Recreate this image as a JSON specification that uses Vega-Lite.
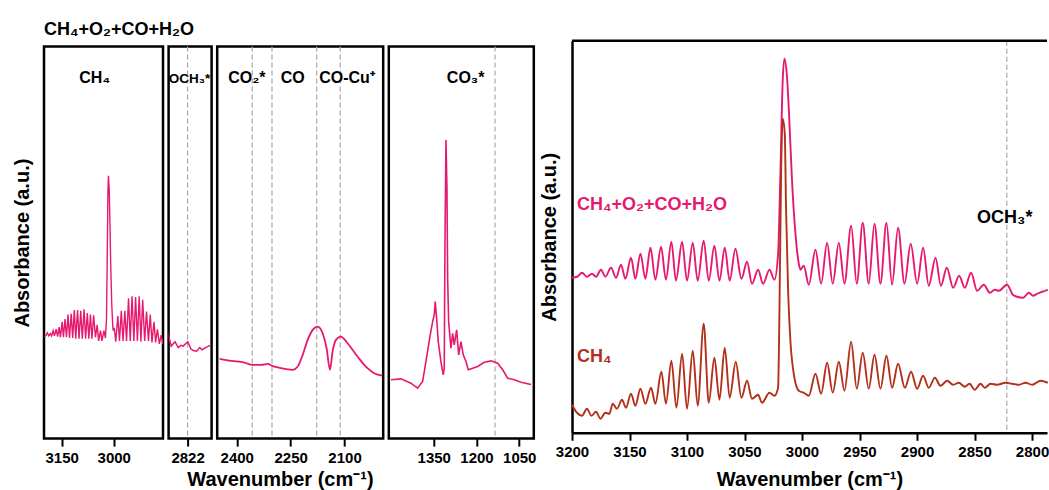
{
  "$schema": "https://vega.github.io/schema/vega-lite/v6.json",
  "padding": {"left": 11, "top": 19.75, "right": 0, "bottom": 0},
  "title": {"text": "CH₄+O₂+CO+H₂O", "anchor": "start", "frame": "bounds", "dx": 33, "fontSize": 18, "font": "Liberation Sans", "fontWeight": "bold", "color": "#000", "offset": 1, "baseline": "top"},
  "config": {
    "font": "Liberation Sans",
    "view": {"stroke": "#000", "strokeWidth": 2.5},
    "axis": {
      "grid": false,
      "labelFont": "Liberation Sans", "labelFontSize": 15, "labelFontWeight": "bold", "labelColor": "#000",
      "titleFont": "Liberation Sans", "titleFontSize": 20, "titleFontWeight": "bold", "titleColor": "#000",
      "tickColor": "#000", "tickWidth": 2, "tickSize": 7.5, "domainColor": "#000", "domainWidth": 2.5,
      "labelPadding": 4, "labelFlush": false, "labelOverlap": false
    },
    "text": {"font": "Liberation Sans", "fontWeight": "bold"}
  },
  "datasets": {
    "spectra": [
      {"series": "mix", "wavenumber": 3200.0, "absorbance": 0.155},
      {"series": "mix", "wavenumber": 3195.5, "absorbance": 0.156},
      {"series": "mix", "wavenumber": 3191.3, "absorbance": 0.160},
      {"series": "mix", "wavenumber": 3187.0, "absorbance": 0.156},
      {"series": "mix", "wavenumber": 3182.6, "absorbance": 0.159},
      {"series": "mix", "wavenumber": 3179.1, "absorbance": 0.156},
      {"series": "mix", "wavenumber": 3174.8, "absorbance": 0.163},
      {"series": "mix", "wavenumber": 3171.0, "absorbance": 0.156},
      {"series": "mix", "wavenumber": 3166.1, "absorbance": 0.165},
      {"series": "mix", "wavenumber": 3161.7, "absorbance": 0.155},
      {"series": "mix", "wavenumber": 3157.4, "absorbance": 0.168},
      {"series": "mix", "wavenumber": 3153.6, "absorbance": 0.154},
      {"series": "mix", "wavenumber": 3148.7, "absorbance": 0.175},
      {"series": "mix", "wavenumber": 3144.9, "absorbance": 0.154},
      {"series": "mix", "wavenumber": 3140.5, "absorbance": 0.179},
      {"series": "mix", "wavenumber": 3136.2, "absorbance": 0.154},
      {"series": "mix", "wavenumber": 3131.8, "absorbance": 0.185},
      {"series": "mix", "wavenumber": 3127.5, "absorbance": 0.153},
      {"series": "mix", "wavenumber": 3122.6, "absorbance": 0.186},
      {"series": "mix", "wavenumber": 3118.3, "absorbance": 0.153},
      {"series": "mix", "wavenumber": 3113.6, "absorbance": 0.191},
      {"series": "mix", "wavenumber": 3109.6, "absorbance": 0.152},
      {"series": "mix", "wavenumber": 3104.3, "absorbance": 0.191},
      {"series": "mix", "wavenumber": 3100.0, "absorbance": 0.152},
      {"series": "mix", "wavenumber": 3095.0, "absorbance": 0.190},
      {"series": "mix", "wavenumber": 3090.7, "absorbance": 0.152},
      {"series": "mix", "wavenumber": 3085.5, "absorbance": 0.192},
      {"series": "mix", "wavenumber": 3081.1, "absorbance": 0.152},
      {"series": "mix", "wavenumber": 3076.2, "absorbance": 0.187},
      {"series": "mix", "wavenumber": 3071.8, "absorbance": 0.152},
      {"series": "mix", "wavenumber": 3067.2, "absorbance": 0.185},
      {"series": "mix", "wavenumber": 3062.9, "absorbance": 0.152},
      {"series": "mix", "wavenumber": 3057.9, "absorbance": 0.184},
      {"series": "mix", "wavenumber": 3052.7, "absorbance": 0.154},
      {"series": "mix", "wavenumber": 3047.8, "absorbance": 0.171},
      {"series": "mix", "wavenumber": 3043.5, "absorbance": 0.149},
      {"series": "mix", "wavenumber": 3038.2, "absorbance": 0.163},
      {"series": "mix", "wavenumber": 3033.9, "absorbance": 0.149},
      {"series": "mix", "wavenumber": 3028.3, "absorbance": 0.163},
      {"series": "mix", "wavenumber": 3024.0, "absorbance": 0.153},
      {"series": "mix", "wavenumber": 3020.8, "absorbance": 0.179},
      {"series": "mix", "wavenumber": 3018.8, "absorbance": 0.259},
      {"series": "mix", "wavenumber": 3016.8, "absorbance": 0.352},
      {"series": "mix", "wavenumber": 3015.3, "absorbance": 0.374},
      {"series": "mix", "wavenumber": 3013.0, "absorbance": 0.355},
      {"series": "mix", "wavenumber": 3010.9, "absorbance": 0.309},
      {"series": "mix", "wavenumber": 3008.7, "absorbance": 0.252},
      {"series": "mix", "wavenumber": 3005.7, "absorbance": 0.199},
      {"series": "mix", "wavenumber": 3002.8, "absorbance": 0.169},
      {"series": "mix", "wavenumber": 3001.4, "absorbance": 0.163},
      {"series": "mix", "wavenumber": 2998.5, "absorbance": 0.167},
      {"series": "mix", "wavenumber": 2994.1, "absorbance": 0.148},
      {"series": "mix", "wavenumber": 2988.3, "absorbance": 0.183},
      {"series": "mix", "wavenumber": 2983.4, "absorbance": 0.149},
      {"series": "mix", "wavenumber": 2978.2, "absorbance": 0.190},
      {"series": "mix", "wavenumber": 2973.3, "absorbance": 0.149},
      {"series": "mix", "wavenumber": 2968.0, "absorbance": 0.190},
      {"series": "mix", "wavenumber": 2963.1, "absorbance": 0.149},
      {"series": "mix", "wavenumber": 2957.3, "absorbance": 0.207},
      {"series": "mix", "wavenumber": 2952.4, "absorbance": 0.149},
      {"series": "mix", "wavenumber": 2947.2, "absorbance": 0.210},
      {"series": "mix", "wavenumber": 2942.0, "absorbance": 0.149},
      {"series": "mix", "wavenumber": 2937.0, "absorbance": 0.209},
      {"series": "mix", "wavenumber": 2931.8, "absorbance": 0.149},
      {"series": "mix", "wavenumber": 2926.6, "absorbance": 0.210},
      {"series": "mix", "wavenumber": 2921.7, "absorbance": 0.148},
      {"series": "mix", "wavenumber": 2916.5, "absorbance": 0.205},
      {"series": "mix", "wavenumber": 2910.9, "absorbance": 0.149},
      {"series": "mix", "wavenumber": 2905.5, "absorbance": 0.189},
      {"series": "mix", "wavenumber": 2899.9, "absorbance": 0.149},
      {"series": "mix", "wavenumber": 2894.7, "absorbance": 0.185},
      {"series": "mix", "wavenumber": 2889.8, "absorbance": 0.147},
      {"series": "mix", "wavenumber": 2883.9, "absorbance": 0.175},
      {"series": "mix", "wavenumber": 2879.3, "absorbance": 0.147},
      {"series": "mix", "wavenumber": 2874.1, "absorbance": 0.165},
      {"series": "mix", "wavenumber": 2868.6, "absorbance": 0.145},
      {"series": "mix", "wavenumber": 2863.4, "absorbance": 0.157},
      {"series": "mix", "wavenumber": 2858.5, "absorbance": 0.145},
      {"series": "mix", "wavenumber": 2853.0, "absorbance": 0.160},
      {"series": "mix", "wavenumber": 2847.8, "absorbance": 0.142},
      {"series": "mix", "wavenumber": 2841.9, "absorbance": 0.148},
      {"series": "mix", "wavenumber": 2836.7, "absorbance": 0.140},
      {"series": "mix", "wavenumber": 2832.4, "absorbance": 0.143},
      {"series": "mix", "wavenumber": 2828.9, "absorbance": 0.142},
      {"series": "mix", "wavenumber": 2821.7, "absorbance": 0.148},
      {"series": "mix", "wavenumber": 2816.7, "absorbance": 0.138},
      {"series": "mix", "wavenumber": 2813.0, "absorbance": 0.136},
      {"series": "mix", "wavenumber": 2807.7, "absorbance": 0.135},
      {"series": "mix", "wavenumber": 2802.8, "absorbance": 0.140},
      {"series": "mix", "wavenumber": 2799.0, "absorbance": 0.137},
      {"series": "mix", "wavenumber": 2795.6, "absorbance": 0.139},
      {"series": "mix", "wavenumber": 2791.2, "absorbance": 0.141},
      {"series": "mix", "wavenumber": 2786.3, "absorbance": 0.143},

      {"series": "mix", "wavenumber": 2447.6, "absorbance": 0.1247},
      {"series": "mix", "wavenumber": 2415.2, "absorbance": 0.1219},
      {"series": "mix", "wavenumber": 2378.3, "absorbance": 0.1196},
      {"series": "mix", "wavenumber": 2357.0, "absorbance": 0.1165},
      {"series": "mix", "wavenumber": 2332.0, "absorbance": 0.1165},
      {"series": "mix", "wavenumber": 2313.5, "absorbance": 0.1179},
      {"series": "mix", "wavenumber": 2301.5, "absorbance": 0.1151},
      {"series": "mix", "wavenumber": 2276.6, "absorbance": 0.1119},
      {"series": "mix", "wavenumber": 2244.2, "absorbance": 0.1097},
      {"series": "mix", "wavenumber": 2230.3, "absorbance": 0.1142},
      {"series": "mix", "wavenumber": 2216.5, "absorbance": 0.1301},
      {"series": "mix", "wavenumber": 2202.6, "absorbance": 0.1505},
      {"series": "mix", "wavenumber": 2188.7, "absorbance": 0.1641},
      {"series": "mix", "wavenumber": 2174.9, "absorbance": 0.1686},
      {"series": "mix", "wavenumber": 2161.0, "absorbance": 0.1595},
      {"series": "mix", "wavenumber": 2149.9, "absorbance": 0.1391},
      {"series": "mix", "wavenumber": 2140.7, "absorbance": 0.1097},
      {"series": "mix", "wavenumber": 2133.3, "absorbance": 0.1346},
      {"series": "mix", "wavenumber": 2124.0, "absorbance": 0.1505},
      {"series": "mix", "wavenumber": 2110.2, "absorbance": 0.1550},
      {"series": "mix", "wavenumber": 2091.7, "absorbance": 0.1459},
      {"series": "mix", "wavenumber": 2063.9, "absorbance": 0.1278},
      {"series": "mix", "wavenumber": 2036.2, "absorbance": 0.1119},
      {"series": "mix", "wavenumber": 2017.7, "absorbance": 0.1051},
      {"series": "mix", "wavenumber": 1994.6, "absorbance": 0.1019},

      {"series": "mix", "wavenumber": 1500.1, "absorbance": 0.0961},
      {"series": "mix", "wavenumber": 1465.0, "absorbance": 0.0974},
      {"series": "mix", "wavenumber": 1430.0, "absorbance": 0.0915},
      {"series": "mix", "wavenumber": 1406.4, "absorbance": 0.0847},
      {"series": "mix", "wavenumber": 1388.9, "absorbance": 0.0938},
      {"series": "mix", "wavenumber": 1377.3, "absorbance": 0.1210},
      {"series": "mix", "wavenumber": 1362.2, "absorbance": 0.1573},
      {"series": "mix", "wavenumber": 1353.8, "absorbance": 0.1754},
      {"series": "mix", "wavenumber": 1348.2, "absorbance": 0.1845},
      {"series": "mix", "wavenumber": 1344.7, "absorbance": 0.2026},
      {"series": "mix", "wavenumber": 1339.8, "absorbance": 0.1799},
      {"series": "mix", "wavenumber": 1334.2, "absorbance": 0.1482},
      {"series": "mix", "wavenumber": 1324.7, "absorbance": 0.1210},
      {"series": "mix", "wavenumber": 1316.6, "absorbance": 0.1029},
      {"series": "mix", "wavenumber": 1313.1, "absorbance": 0.1119},
      {"series": "mix", "wavenumber": 1310.7, "absorbance": 0.2751},
      {"series": "mix", "wavenumber": 1307.1, "absorbance": 0.4226},
      {"series": "mix", "wavenumber": 1303.6, "absorbance": 0.3568},
      {"series": "mix", "wavenumber": 1301.2, "absorbance": 0.2343},
      {"series": "mix", "wavenumber": 1297.7, "absorbance": 0.1754},
      {"series": "mix", "wavenumber": 1289.6, "absorbance": 0.1391},
      {"series": "mix", "wavenumber": 1283.6, "absorbance": 0.1595},
      {"series": "mix", "wavenumber": 1278.0, "absorbance": 0.1437},
      {"series": "mix", "wavenumber": 1269.6, "absorbance": 0.1641},
      {"series": "mix", "wavenumber": 1262.6, "absorbance": 0.1301},
      {"series": "mix", "wavenumber": 1254.5, "absorbance": 0.1482},
      {"series": "mix", "wavenumber": 1246.4, "absorbance": 0.1301},
      {"series": "mix", "wavenumber": 1237.0, "absorbance": 0.1210},
      {"series": "mix", "wavenumber": 1228.9, "absorbance": 0.1097},
      {"series": "mix", "wavenumber": 1213.5, "absorbance": 0.1119},
      {"series": "mix", "wavenumber": 1195.9, "absorbance": 0.1142},
      {"series": "mix", "wavenumber": 1172.8, "absorbance": 0.1200},
      {"series": "mix", "wavenumber": 1149.2, "absorbance": 0.1219},
      {"series": "mix", "wavenumber": 1125.7, "absorbance": 0.1187},
      {"series": "mix", "wavenumber": 1108.2, "absorbance": 0.1097},
      {"series": "mix", "wavenumber": 1090.7, "absorbance": 0.0983},
      {"series": "mix", "wavenumber": 1067.5, "absorbance": 0.0961},
      {"series": "mix", "wavenumber": 1044.0, "absorbance": 0.0928},
      {"series": "mix", "wavenumber": 1008.9, "absorbance": 0.0897},

      {"series": "ch4", "wavenumber": 3200.0, "absorbance": 0.028},
      {"series": "ch4", "wavenumber": 3195.7, "absorbance": 0.020},
      {"series": "ch4", "wavenumber": 3191.3, "absorbance": 0.017},
      {"series": "ch4", "wavenumber": 3187.0, "absorbance": 0.024},
      {"series": "ch4", "wavenumber": 3183.1, "absorbance": 0.017},
      {"series": "ch4", "wavenumber": 3179.1, "absorbance": 0.021},
      {"series": "ch4", "wavenumber": 3175.3, "absorbance": 0.014},
      {"series": "ch4", "wavenumber": 3171.0, "absorbance": 0.020},
      {"series": "ch4", "wavenumber": 3167.5, "absorbance": 0.019},
      {"series": "ch4", "wavenumber": 3164.6, "absorbance": 0.029},
      {"series": "ch4", "wavenumber": 3160.9, "absorbance": 0.024},
      {"series": "ch4", "wavenumber": 3156.5, "absorbance": 0.033},
      {"series": "ch4", "wavenumber": 3153.1, "absorbance": 0.025},
      {"series": "ch4", "wavenumber": 3148.7, "absorbance": 0.039},
      {"series": "ch4", "wavenumber": 3144.9, "absorbance": 0.027},
      {"series": "ch4", "wavenumber": 3140.5, "absorbance": 0.044},
      {"series": "ch4", "wavenumber": 3136.2, "absorbance": 0.029},
      {"series": "ch4", "wavenumber": 3131.3, "absorbance": 0.045},
      {"series": "ch4", "wavenumber": 3127.5, "absorbance": 0.029},
      {"series": "ch4", "wavenumber": 3122.3, "absorbance": 0.061},
      {"series": "ch4", "wavenumber": 3118.3, "absorbance": 0.029},
      {"series": "ch4", "wavenumber": 3113.6, "absorbance": 0.072},
      {"series": "ch4", "wavenumber": 3109.2, "absorbance": 0.025},
      {"series": "ch4", "wavenumber": 3104.3, "absorbance": 0.079},
      {"series": "ch4", "wavenumber": 3100.0, "absorbance": 0.024},
      {"series": "ch4", "wavenumber": 3095.0, "absorbance": 0.082},
      {"series": "ch4", "wavenumber": 3090.7, "absorbance": 0.027},
      {"series": "ch4", "wavenumber": 3085.5, "absorbance": 0.109},
      {"series": "ch4", "wavenumber": 3081.1, "absorbance": 0.030},
      {"series": "ch4", "wavenumber": 3076.2, "absorbance": 0.075},
      {"series": "ch4", "wavenumber": 3071.8, "absorbance": 0.033},
      {"series": "ch4", "wavenumber": 3067.2, "absorbance": 0.085},
      {"series": "ch4", "wavenumber": 3062.9, "absorbance": 0.035},
      {"series": "ch4", "wavenumber": 3057.6, "absorbance": 0.071},
      {"series": "ch4", "wavenumber": 3052.7, "absorbance": 0.035},
      {"series": "ch4", "wavenumber": 3047.8, "absorbance": 0.052},
      {"series": "ch4", "wavenumber": 3043.5, "absorbance": 0.034},
      {"series": "ch4", "wavenumber": 3038.2, "absorbance": 0.038},
      {"series": "ch4", "wavenumber": 3034.8, "absorbance": 0.030},
      {"series": "ch4", "wavenumber": 3028.3, "absorbance": 0.040},
      {"series": "ch4", "wavenumber": 3024.0, "absorbance": 0.037},
      {"series": "ch4", "wavenumber": 3020.8, "absorbance": 0.045},
      {"series": "ch4", "wavenumber": 3019.6, "absorbance": 0.125},
      {"series": "ch4", "wavenumber": 3018.2, "absorbance": 0.259},
      {"series": "ch4", "wavenumber": 3016.8, "absorbance": 0.314},
      {"series": "ch4", "wavenumber": 3015.0, "absorbance": 0.299},
      {"series": "ch4", "wavenumber": 3013.9, "absorbance": 0.225},
      {"series": "ch4", "wavenumber": 3012.1, "absorbance": 0.142},
      {"series": "ch4", "wavenumber": 3010.1, "absorbance": 0.092},
      {"series": "ch4", "wavenumber": 3007.2, "absorbance": 0.059},
      {"series": "ch4", "wavenumber": 3002.8, "absorbance": 0.042},
      {"series": "ch4", "wavenumber": 2998.5, "absorbance": 0.040},
      {"series": "ch4", "wavenumber": 2994.1, "absorbance": 0.037},
      {"series": "ch4", "wavenumber": 2988.3, "absorbance": 0.059},
      {"series": "ch4", "wavenumber": 2983.4, "absorbance": 0.039},
      {"series": "ch4", "wavenumber": 2978.2, "absorbance": 0.070},
      {"series": "ch4", "wavenumber": 2973.3, "absorbance": 0.040},
      {"series": "ch4", "wavenumber": 2968.0, "absorbance": 0.071},
      {"series": "ch4", "wavenumber": 2963.1, "absorbance": 0.042},
      {"series": "ch4", "wavenumber": 2957.3, "absorbance": 0.091},
      {"series": "ch4", "wavenumber": 2952.4, "absorbance": 0.044},
      {"series": "ch4", "wavenumber": 2947.2, "absorbance": 0.080},
      {"series": "ch4", "wavenumber": 2942.0, "absorbance": 0.044},
      {"series": "ch4", "wavenumber": 2937.0, "absorbance": 0.078},
      {"series": "ch4", "wavenumber": 2931.8, "absorbance": 0.044},
      {"series": "ch4", "wavenumber": 2926.6, "absorbance": 0.077},
      {"series": "ch4", "wavenumber": 2921.7, "absorbance": 0.045},
      {"series": "ch4", "wavenumber": 2916.5, "absorbance": 0.069},
      {"series": "ch4", "wavenumber": 2910.6, "absorbance": 0.045},
      {"series": "ch4", "wavenumber": 2905.2, "absorbance": 0.061},
      {"series": "ch4", "wavenumber": 2899.9, "absorbance": 0.044},
      {"series": "ch4", "wavenumber": 2894.7, "absorbance": 0.057},
      {"series": "ch4", "wavenumber": 2889.8, "absorbance": 0.045},
      {"series": "ch4", "wavenumber": 2884.5, "absorbance": 0.055},
      {"series": "ch4", "wavenumber": 2879.6, "absorbance": 0.047},
      {"series": "ch4", "wavenumber": 2873.8, "absorbance": 0.052},
      {"series": "ch4", "wavenumber": 2868.6, "absorbance": 0.048},
      {"series": "ch4", "wavenumber": 2863.7, "absorbance": 0.050},
      {"series": "ch4", "wavenumber": 2858.5, "absorbance": 0.046},
      {"series": "ch4", "wavenumber": 2854.4, "absorbance": 0.049},
      {"series": "ch4", "wavenumber": 2849.8, "absorbance": 0.043},
      {"series": "ch4", "wavenumber": 2844.8, "absorbance": 0.049},
      {"series": "ch4", "wavenumber": 2841.1, "absorbance": 0.045},
      {"series": "ch4", "wavenumber": 2836.1, "absorbance": 0.049},
      {"series": "ch4", "wavenumber": 2830.4, "absorbance": 0.048},
      {"series": "ch4", "wavenumber": 2823.1, "absorbance": 0.050},
      {"series": "ch4", "wavenumber": 2817.3, "absorbance": 0.049},
      {"series": "ch4", "wavenumber": 2811.5, "absorbance": 0.048},
      {"series": "ch4", "wavenumber": 2805.7, "absorbance": 0.050},
      {"series": "ch4", "wavenumber": 2799.9, "absorbance": 0.048},
      {"series": "ch4", "wavenumber": 2792.6, "absorbance": 0.052},
      {"series": "ch4", "wavenumber": 2786.3, "absorbance": 0.050}
    ],
    "guides": [
      {"panel": "p2", "wavenumber": 2822},
      {"panel": "p3", "wavenumber": 2357},
      {"panel": "p3", "wavenumber": 2302},
      {"panel": "p3", "wavenumber": 2177.6},
      {"panel": "p3", "wavenumber": 2112},
      {"panel": "p4", "wavenumber": 1135},
      {"panel": "right", "wavenumber": 2822}
    ],
    "labels": [
      {"panel": "p1", "text": "CH₄", "wavenumber": 3055, "absorbance": 0.5},
      {"panel": "p2", "text": "OCH₃*", "wavenumber": 2819, "absorbance": 0.5},
      {"panel": "p3", "text": "CO₂*", "wavenumber": 2372, "absorbance": 0.5},
      {"panel": "p3", "text": "CO", "wavenumber": 2244, "absorbance": 0.5},
      {"panel": "p3", "text": "CO-Cu⁺", "wavenumber": 2093, "absorbance": 0.5},
      {"panel": "p4", "text": "CO₃*", "wavenumber": 1238, "absorbance": 0.5},
      {"panel": "right", "series": "mix", "text": "CH₄+O₂+CO+H₂O", "wavenumber": 3195.7, "absorbance": 0.2227},
      {"panel": "right", "series": "ch4", "text": "CH₄", "wavenumber": 3195.7, "absorbance": 0.0703},
      {"panel": "right", "series": "note", "text": "OCH₃*", "wavenumber": 2847.8, "absorbance": 0.2093}
    ],
    "topEdge": [{"absorbance": 0.392}]
  },
  "spacing": 1,
  "hconcat": [
    {
      "spacing": 2.85,
      "vconcat": [
        {
          "data": {"name": "topEdge"},
          "width": 1, "height": 1,
          "view": {"stroke": null},
          "mark": {"type": "point", "opacity": 0, "size": 1, "filled": true, "strokeWidth": 0},
          "encoding": {}
        },
        {
          "spacing": 5.6,
          "bounds": "flush",
          "hconcat": [
            {
              "width": 119, "height": 392,
              "layer": [
                {
                  "data": {"name": "spectra"},
                  "transform": [{"filter": "datum.series === 'mix' && datum.wavenumber >= 2850 && datum.wavenumber <= 3205"}],
                  "mark": {"type": "line", "clip": true, "color": "#E6196F", "strokeWidth": 1.4},
                  "encoding": {
                    "x": {"field": "wavenumber", "type": "quantitative", "scale": {"domain": [3201, 2858]},
                          "axis": {"values": [3150, 3000], "format": "d", "title": null, "domain": false}},
                    "y": {"field": "absorbance", "type": "quantitative", "scale": {"domain": [0.016, 0.55]},
                          "axis": {"title": "Absorbance (a.u.)", "labels": false, "ticks": false, "domain": false, "titlePadding": 11.75}}
                  }
                },
                {
                  "data": {"name": "labels"},
                  "transform": [{"filter": "datum.panel === 'p1'"}],
                  "mark": {"type": "text", "align": "center", "baseline": "alphabetic", "fontSize": 16, "color": "#000"},
                  "encoding": {
                    "x": {"field": "wavenumber", "type": "quantitative", "scale": {"domain": [3201, 2858]}},
                    "y": {"field": "absorbance", "type": "quantitative", "scale": {"domain": [0.016, 0.55]}},
                    "text": {"field": "text"}
                  }
                }
              ]
            },
            {
              "width": 43, "height": 392,
              "layer": [
                {
                  "data": {"name": "guides"},
                  "transform": [{"filter": "datum.panel === 'p2'"}],
                  "mark": {"type": "rule", "color": "#a8a8a8", "strokeDash": [5, 3], "strokeWidth": 1.2},
                  "encoding": {"x": {"field": "wavenumber", "type": "quantitative", "scale": {"domain": [2852, 2784]}}}
                },
                {
                  "data": {"name": "spectra"},
                  "transform": [{"filter": "datum.series === 'mix' && datum.wavenumber >= 2780 && datum.wavenumber <= 2860"}],
                  "mark": {"type": "line", "clip": true, "color": "#E6196F", "strokeWidth": 1.5},
                  "encoding": {
                    "x": {"field": "wavenumber", "type": "quantitative", "scale": {"domain": [2852, 2784]},
                          "axis": {"values": [2822], "format": "d", "title": null, "domain": false}},
                    "y": {"field": "absorbance", "type": "quantitative", "scale": {"domain": [0.016, 0.55]}, "axis": null}
                  }
                },
                {
                  "data": {"name": "labels"},
                  "transform": [{"filter": "datum.panel === 'p2'"}],
                  "mark": {"type": "text", "align": "center", "baseline": "alphabetic", "fontSize": 13.5, "color": "#000"},
                  "encoding": {
                    "x": {"field": "wavenumber", "type": "quantitative", "scale": {"domain": [2852, 2784]}},
                    "y": {"field": "absorbance", "type": "quantitative", "scale": {"domain": [0.016, 0.55]}},
                    "text": {"field": "text"}
                  }
                }
              ]
            },
            {
              "width": 166, "height": 392,
              "layer": [
                {
                  "data": {"name": "guides"},
                  "transform": [{"filter": "datum.panel === 'p3'"}],
                  "mark": {"type": "rule", "color": "#a8a8a8", "strokeDash": [5, 3], "strokeWidth": 1.2},
                  "encoding": {"x": {"field": "wavenumber", "type": "quantitative", "scale": {"domain": [2454.5, 1992.4]}}}
                },
                {
                  "data": {"name": "spectra"},
                  "transform": [{"filter": "datum.series === 'mix' && datum.wavenumber >= 1990 && datum.wavenumber <= 2460"}],
                  "mark": {"type": "line", "clip": true, "color": "#E6196F", "strokeWidth": 1.8, "interpolate": "monotone"},
                  "encoding": {
                    "x": {"field": "wavenumber", "type": "quantitative", "scale": {"domain": [2454.5, 1992.4]},
                          "axis": {"values": [2400, 2250, 2100], "format": "d", "title": "Wavenumber (cm⁻¹)", "domain": false,
                                   "titleX": 62.7, "titleY": 31, "titleBaseline": "top"}},
                    "y": {"field": "absorbance", "type": "quantitative", "scale": {"domain": [0.016, 0.55]}, "axis": null}
                  }
                },
                {
                  "data": {"name": "labels"},
                  "transform": [{"filter": "datum.panel === 'p3'"}],
                  "mark": {"type": "text", "align": "center", "baseline": "alphabetic", "fontSize": 16, "color": "#000"},
                  "encoding": {
                    "x": {"field": "wavenumber", "type": "quantitative", "scale": {"domain": [2454.5, 1992.4]}},
                    "y": {"field": "absorbance", "type": "quantitative", "scale": {"domain": [0.016, 0.55]}},
                    "text": {"field": "text"}
                  }
                }
              ]
            },
            {
              "width": 145, "height": 392,
              "layer": [
                {
                  "data": {"name": "guides"},
                  "transform": [{"filter": "datum.panel === 'p4'"}],
                  "mark": {"type": "rule", "color": "#a8a8a8", "strokeDash": [5, 3], "strokeWidth": 1.2},
                  "encoding": {"x": {"field": "wavenumber", "type": "quantitative", "scale": {"domain": [1507.5, 999.1]}}}
                },
                {
                  "data": {"name": "spectra"},
                  "transform": [{"filter": "datum.series === 'mix' && datum.wavenumber >= 995 && datum.wavenumber <= 1510"}],
                  "mark": {"type": "line", "clip": true, "color": "#E6196F", "strokeWidth": 1.6},
                  "encoding": {
                    "x": {"field": "wavenumber", "type": "quantitative", "scale": {"domain": [1507.5, 999.1]},
                          "axis": {"values": [1350, 1200, 1050], "format": "d", "title": null, "domain": false}},
                    "y": {"field": "absorbance", "type": "quantitative", "scale": {"domain": [0.016, 0.55]}, "axis": null}
                  }
                },
                {
                  "data": {"name": "labels"},
                  "transform": [{"filter": "datum.panel === 'p4'"}],
                  "mark": {"type": "text", "align": "center", "baseline": "alphabetic", "fontSize": 16, "color": "#000"},
                  "encoding": {
                    "x": {"field": "wavenumber", "type": "quantitative", "scale": {"domain": [1507.5, 999.1]}},
                    "y": {"field": "absorbance", "type": "quantitative", "scale": {"domain": [0.016, 0.55]}},
                    "text": {"field": "text"}
                  }
                }
              ]
            }
          ]
        }
      ]
    },
    {
      "width": 475, "height": 392,
      "view": {"stroke": null},
      "layer": [
        {
          "data": {"name": "guides"},
          "transform": [{"filter": "datum.panel === 'right'"}],
          "mark": {"type": "rule", "color": "#a8a8a8", "strokeDash": [5, 3], "strokeWidth": 1.2},
          "encoding": {"x": {"field": "wavenumber", "type": "quantitative", "scale": {"domain": [3200, 2787]}}}
        },
        {
          "data": {"name": "topEdge"},
          "mark": {"type": "rule", "color": "#000", "strokeWidth": 2.5},
          "encoding": {"y": {"field": "absorbance", "type": "quantitative", "scale": {"domain": [0, 0.392]}}}
        },
        {
          "data": {"name": "spectra"},
          "transform": [{"filter": "datum.wavenumber >= 2780"}],
          "mark": {"type": "line", "interpolate": "monotone", "strokeWidth": 1.9},
          "encoding": {
            "x": {"field": "wavenumber", "type": "quantitative", "scale": {"domain": [3200, 2787]},
                  "axis": {"values": [3200, 3150, 3100, 3050, 3000, 2950, 2900, 2850, 2800], "format": "d",
                           "title": "Wavenumber (cm⁻¹)", "titlePadding": 10, "domain": true}},
            "y": {"field": "absorbance", "type": "quantitative", "scale": {"domain": [0, 0.392]},
                  "axis": {"title": "Absorbance (a.u.)", "labels": false, "ticks": false, "domain": true, "titlePadding": 12.65}},
            "color": {"field": "series", "type": "nominal",
                      "scale": {"domain": ["mix", "ch4", "note"], "range": ["#E6196F", "#B3301A", "#000000"]}, "legend": null}
          }
        },
        {
          "data": {"name": "labels"},
          "transform": [{"filter": "datum.panel === 'right'"}],
          "mark": {"type": "text", "align": "left", "baseline": "alphabetic", "fontSize": 18},
          "encoding": {
            "x": {"field": "wavenumber", "type": "quantitative", "scale": {"domain": [3200, 2787]}},
            "y": {"field": "absorbance", "type": "quantitative", "scale": {"domain": [0, 0.392]}},
            "text": {"field": "text"},
            "color": {"field": "series", "type": "nominal",
                      "scale": {"domain": ["mix", "ch4", "note"], "range": ["#E6196F", "#B3301A", "#000000"]}, "legend": null}
          }
        }
      ]
    }
  ]
}
